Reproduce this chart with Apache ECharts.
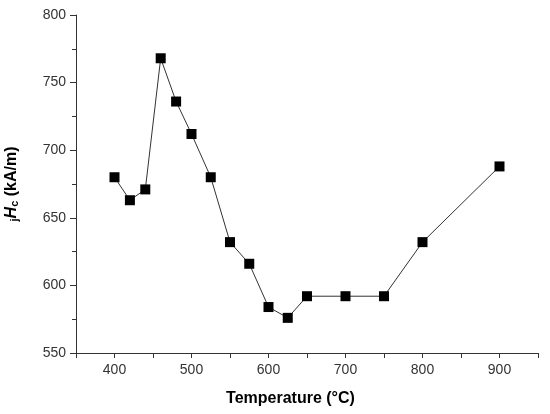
<!DOCTYPE html>
<html>
<head>
<meta charset="utf-8">
<script src="https://cdn.jsdelivr.net/npm/echarts@6/dist/echarts.min.js"></script>
<style>
  html, body { margin: 0; padding: 0; background: #fff; }
  #main { width: 550px; height: 414px; }
</style>
</head>
<body>
<div id="main"></div>
<script>
// annealing temperature (°C) vs coercivity jHc (kA/m)
const temperature = [400, 420, 440, 460, 480, 500, 525, 550, 575, 600, 625, 650, 700, 750, 800, 900];
const coercivity = [680, 663, 671, 768, 736, 712, 680, 632, 616, 584, 576, 592, 592, 592, 632, 688];

const chartDom = document.getElementById('main');
const myChart = echarts.init(chartDom);

const font = 'Liberation Sans, Arial, sans-serif';
const axisColor = '#333';

const myChartOption = {
  animation: false,
  grid: { left: 76, right: 12, top: 15, bottom: 61, outerBoundsMode: 'none' },
  xAxis: {
    type: 'value',
    min: 350,
    max: 950,
    interval: 50,
    name: 'Temperature (°C)',
    nameLocation: 'middle',
    nameGap: 38,
    nameTextStyle: {
      fontFamily: font, fontSize: 16, fontWeight: 'bold', color: '#000',
      padding: [0, 33, 0, 0]
    },
    axisLine: { lineStyle: { color: axisColor, width: 1 } },
    axisTick: { inside: false, length: 5, lineStyle: { color: axisColor } },
    axisLabel: {
      fontFamily: font, fontSize: 14, color: '#333', margin: 10,
      formatter: v => (v % 100 === 0 ? String(v) : '')
    },
    splitLine: { show: false }
  },
  yAxis: {
    type: 'value',
    min: 550,
    max: 800,
    interval: 50,
    name: '{sub|j}{it|H}{sub|c} (kA/m)',
    nameLocation: 'middle',
    nameGap: 56,
    nameTextStyle: {
      fontFamily: font, fontSize: 16, fontWeight: 'bold', color: '#000',
      rich: {
        it: { fontFamily: font, fontSize: 16, fontWeight: 'bold', fontStyle: 'italic', color: '#000' },
        sub: { fontFamily: font, fontSize: 11, fontWeight: 'bold', color: '#000', padding: [5, 0, 0, 0] }
      }
    },
    axisLine: { show: true, lineStyle: { color: axisColor, width: 1 } },
    axisTick: { show: true, inside: false, length: 6, lineStyle: { color: axisColor } },
    minorTick: { show: true, splitNumber: 2, length: 4, lineStyle: { color: axisColor } },
    axisLabel: { fontFamily: font, fontSize: 14, color: '#333', margin: 10 },
    splitLine: { show: false }
  },
  series: [
    {
      type: 'line',
      data: temperature.map((t, i) => [t, coercivity[i]]),
      symbol: 'rect',
      symbolSize: 10,
      itemStyle: { color: '#000' },
      lineStyle: { color: '#333', width: 1 }
    }
  ]
};

myChartOption && myChart.setOption(myChartOption);
</script>
</body>
</html>
